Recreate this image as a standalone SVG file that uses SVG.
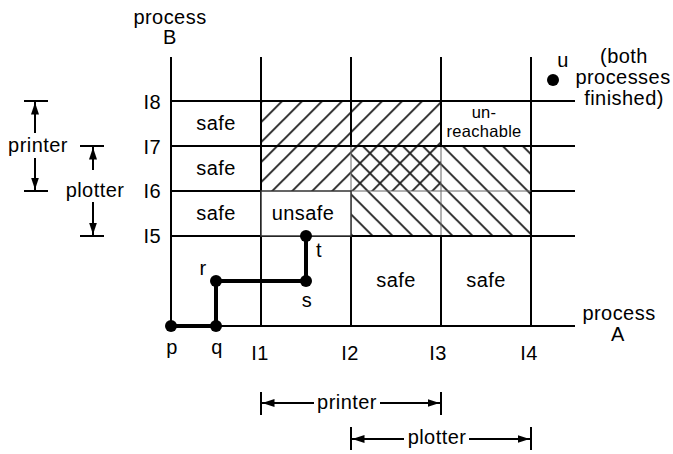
<svg xmlns="http://www.w3.org/2000/svg" width="673" height="454" viewBox="0 0 673 454">
<style>
text{font-family:"Liberation Sans",Arial,Helvetica,sans-serif;font-size:20px;letter-spacing:0.45px;fill:#000}
.m{text-anchor:middle}
.e{text-anchor:end}
.g{stroke:#000;stroke-width:2;fill:none}
.thin{stroke:#666;stroke-width:1;fill:none}
.dim{stroke:#000;stroke-width:2;fill:none}
.path{stroke:#000;stroke-width:4;fill:none}
.small{font-size:16.5px;letter-spacing:0.3px}
</style>
<defs>
<pattern id="fwd" patternUnits="userSpaceOnUse" x="3.3" y="0" width="20" height="20">
<path d="M-5,5 L5,-5 M0,20 L20,0 M15,25 L25,15" stroke="#222" stroke-width="1.9"/>
</pattern>
<pattern id="bwd" patternUnits="userSpaceOnUse" x="16.7" y="0" width="20" height="20">
<path d="M0,0 L20,20 M-5,15 L5,25 M15,-5 L25,5" stroke="#222" stroke-width="1.9"/>
</pattern>
<marker id="ah" viewBox="0 0 12 8" refX="13.5" refY="4" markerWidth="12" markerHeight="8" markerUnits="userSpaceOnUse" orient="auto-start-reverse">
<path d="M0,0 L12,4 L0,8 z" fill="#000"/>
</marker>
</defs>
<rect width="673" height="454" fill="#fff"/>

<g id="regions">
<rect id="printer-region" x="261" y="101" width="180" height="90" fill="url(#fwd)"/>
<rect id="plotter-region" x="351" y="146" width="180" height="90" fill="url(#bwd)"/>
</g>

<g id="grid">
<line class="g" x1="171" y1="57" x2="171" y2="326"/>
<line class="g" x1="261" y1="57" x2="261" y2="326"/>
<line class="g" x1="351" y1="57" x2="351" y2="146"/>
<line class="thin" x1="351" y1="146" x2="351" y2="236"/>
<line class="g" x1="351" y1="236" x2="351" y2="326"/>
<line class="g" x1="441" y1="57" x2="441" y2="146"/>
<line class="thin" x1="441" y1="146" x2="441" y2="236"/>
<line class="g" x1="441" y1="236" x2="441" y2="326"/>
<line class="g" x1="531" y1="57" x2="531" y2="326"/>
<line class="g" x1="171" y1="101" x2="575" y2="101"/>
<line class="g" x1="171" y1="146" x2="575" y2="146"/>
<line class="g" x1="171" y1="191" x2="261" y2="191"/>
<line class="thin" x1="351" y1="191" x2="531" y2="191"/>
<line class="g" x1="531" y1="191" x2="575" y2="191"/>
<line class="g" x1="171" y1="236" x2="575" y2="236"/>
<line class="g" x1="171" y1="326" x2="575" y2="326"/>
</g>

<g id="unsafe">
<rect x="261" y="191" width="90" height="45" fill="#fff" stroke="#333" stroke-width="1.5"/>
<text class="m" x="303" y="220">unsafe</text>
</g>
<g id="unreachable">
<rect x="441" y="101" width="90" height="45" fill="#fff" stroke="#000" stroke-width="2"/>
<text class="m small" x="484" y="118">un-</text>
<text class="m small" x="484" y="137">reachable</text>
</g>

<g id="safe-labels">
<text class="m" x="216" y="130">safe</text>
<text class="m" x="216" y="175">safe</text>
<text class="m" x="216" y="220">safe</text>
<text class="m" x="396" y="287">safe</text>
<text class="m" x="486" y="287">safe</text>
</g>

<g id="axis-labels">
<text class="m" x="170" y="24">process</text>
<text class="m" x="170" y="44">B</text>
<text class="m" x="619" y="320">process</text>
<text class="m" x="618" y="341">A</text>
<text class="e" x="161" y="109">I8</text>
<text class="e" x="161" y="154">I7</text>
<text class="e" x="161" y="198">I6</text>
<text class="e" x="161" y="243">I5</text>
<text class="m" x="260" y="360">I1</text>
<text class="m" x="350" y="360">I2</text>
<text class="m" x="438" y="360">I3</text>
<text class="m" x="529" y="360">I4</text>
</g>

<g id="connectors">
<polyline class="path" points="171,326 216,326 216,281 306,281 306,236"/>
</g>

<g id="p"><circle cx="171" cy="326" r="6"/><text class="m" x="172" y="354">p</text></g>
<g id="q"><circle cx="216" cy="326" r="6"/><text class="m" x="217" y="354">q</text></g>
<g id="r"><circle cx="216" cy="281" r="6"/><text class="m" x="203" y="275">r</text></g>
<g id="s"><circle cx="306" cy="281" r="6"/><text class="m" x="307" y="307">s</text></g>
<g id="t"><circle cx="306" cy="236" r="6"/><text class="m" x="319" y="257">t</text></g>
<g id="u"><circle cx="553" cy="80" r="6"/><text class="m" x="563" y="67">u</text>
<text class="m" x="624" y="63">(both</text>
<text class="m" x="623" y="84">processes</text>
<text class="m" x="624" y="105">finished)</text>
</g>

<g id="dimensions">
<line class="dim" x1="24" y1="101" x2="48" y2="101"/>
<line class="dim" x1="24" y1="191" x2="48" y2="191"/>
<line class="dim" x1="35" y1="133" x2="35" y2="101" marker-end="url(#ah)"/>
<line class="dim" x1="35" y1="158" x2="35" y2="191" marker-end="url(#ah)"/>
<text class="m" x="38" y="152">printer</text>
<line class="dim" x1="80" y1="146" x2="104" y2="146"/>
<line class="dim" x1="80" y1="236" x2="104" y2="236"/>
<line class="dim" x1="93" y1="170" x2="93" y2="146" marker-end="url(#ah)"/>
<line class="dim" x1="93" y1="202" x2="93" y2="236" marker-end="url(#ah)"/>
<text class="m" x="95" y="197">plotter</text>
<line class="dim" x1="261" y1="392" x2="261" y2="415"/>
<line class="dim" x1="441" y1="392" x2="441" y2="415"/>
<line class="dim" x1="314" y1="403" x2="261" y2="403" marker-end="url(#ah)"/>
<line class="dim" x1="380" y1="403" x2="441" y2="403" marker-end="url(#ah)"/>
<text class="m" x="347" y="409">printer</text>
<line class="dim" x1="351" y1="427" x2="351" y2="450"/>
<line class="dim" x1="531" y1="427" x2="531" y2="450"/>
<line class="dim" x1="404" y1="439" x2="351" y2="439" marker-end="url(#ah)"/>
<line class="dim" x1="469" y1="439" x2="531" y2="439" marker-end="url(#ah)"/>
<text class="m" x="437" y="444">plotter</text>
</g>
</svg>
